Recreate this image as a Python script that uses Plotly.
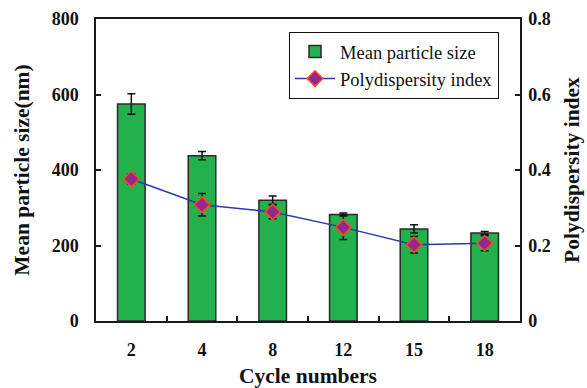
import plotly.graph_objects as go

cycles = ["2", "4", "8", "12", "15", "18"]
mean_size = [575, 438, 320, 282, 244, 233]
mean_size_err = [27, 11, 11, 4, 11, 4]
pdi = [0.376, 0.308, 0.289, 0.248, 0.202, 0.206]
pdi_err = [0.013, 0.030, 0.018, 0.032, 0.022, 0.020]

FONT = "Liberation Serif, Times New Roman, serif"
AX = "#1a1a1a"

fig = go.Figure()
fig.add_trace(go.Bar(
    x=cycles, y=mean_size, name="Mean particle size",
    marker=dict(color="#22b14c", line=dict(color="#2a2a2a", width=1.5)),
    error_y=dict(type="data", array=mean_size_err, color="#111111", thickness=1.5, width=4),
    width=0.39,
))
fig.add_trace(go.Scatter(
    x=cycles, y=pdi, name="Polydispersity index", yaxis="y2",
    mode="lines+markers",
    line=dict(color="#2b3aa8", width=1.5),
    marker=dict(symbol="diamond", size=12, color="#93278f", line=dict(color="#ff4a1a", width=1.5)),
    error_y=dict(type="data", array=pdi_err, color="#111111", thickness=1.5, width=4),
))

fig.update_layout(
    width=587, height=388,
    margin=dict(l=96, r=67, t=19, b=67, autoexpand=False),
    paper_bgcolor="white", plot_bgcolor="white",
    font=dict(family=FONT, color="#111111"),
    showlegend=True,
    legend=dict(x=0.9505, y=0.957, xanchor="right", yanchor="top",
                bgcolor="white", bordercolor="#111111", borderwidth=1,
                font=dict(family=FONT, size=18.5, color="#111111"),
                tracegroupgap=0, itemwidth=40),
    xaxis=dict(
        type="category", tickson="boundaries", ticks="inside", ticklen=5,
        tickcolor=AX, tickwidth=1.5, automargin=True,
        showline=True, linecolor=AX, linewidth=1.5, mirror=True,
        showgrid=False, zeroline=False,
        tickfont=dict(family=FONT, size=18, weight="bold", color="#111111"),
        ticklabelstandoff=12,
        title=dict(text="Cycle numbers", font=dict(family=FONT, size=21.5, weight="bold", color="#111111"), standoff=14),
    ),
    yaxis=dict(
        range=[0, 800], tickvals=[0, 200, 400, 600, 800],
        ticks="inside", ticklen=5, tickcolor=AX, tickwidth=1.5, automargin=True,
        showline=True, linecolor=AX, linewidth=1.5,
        showgrid=False, zeroline=False,
        tickfont=dict(family=FONT, size=18, weight="bold", color="#111111"),
        ticklabelstandoff=12,
        title=dict(text="Mean particle size(nm)", font=dict(family=FONT, size=21.5, weight="bold", color="#111111"), standoff=16),
    ),
    yaxis2=dict(
        range=[0, 0.8], tickvals=[0, 0.2, 0.4, 0.6, 0.8], ticktext=["0", "0.2", "0.4", "0.6", "0.8"],
        overlaying="y", side="right", automargin=True,
        ticks="inside", ticklen=5, tickcolor=AX, tickwidth=1.5,
        showline=True, linecolor=AX, linewidth=1.5,
        showgrid=False, zeroline=False,
        tickfont=dict(family=FONT, size=18, weight="bold", color="#111111"),
        ticklabelstandoff=3,
        title=dict(text="Polydispersity index", font=dict(family=FONT, size=21.5, weight="bold", color="#111111"), standoff=14),
    ),
)

fig.write_html("out.html")
